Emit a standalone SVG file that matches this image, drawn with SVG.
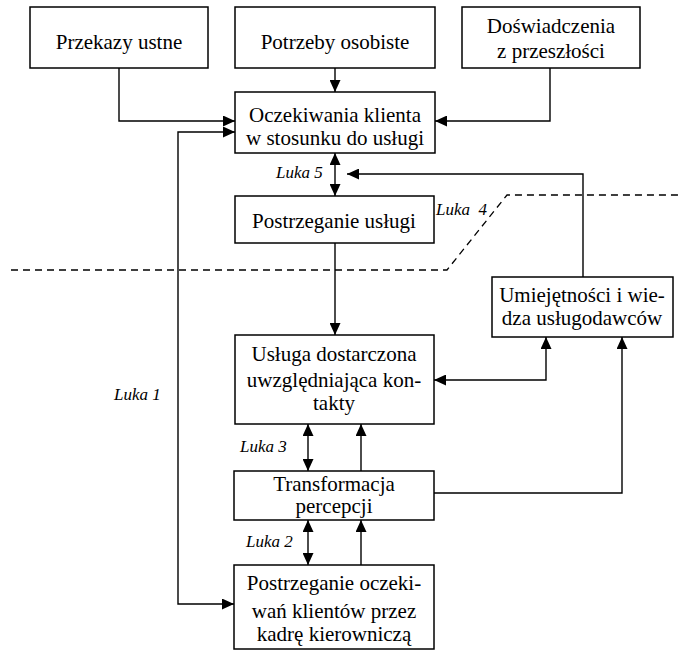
<svg xmlns="http://www.w3.org/2000/svg" width="678" height="651" viewBox="0 0 678 651">
<style>
text{font-family:"Times New Roman",Times,"Liberation Serif","Noto Serif","DejaVu Serif",FreeSerif,Tinos,serif}
.box{fill:#fff;stroke:#000;stroke-width:1.5}
.t{font-size:21px;text-anchor:middle;fill:#000}
.l{font-size:17px;font-style:italic;fill:#000}
.c{fill:none;stroke:#000;stroke-width:1.4}
.d{fill:none;stroke:#000;stroke-width:1.3;stroke-dasharray:7,5}
</style>
<defs>
<marker id="a" markerUnits="userSpaceOnUse" markerWidth="12" markerHeight="11" refX="12" refY="5.5" orient="auto-start-reverse">
<path d="M0,0 L12,5.5 L0,11 z" fill="#000"/>
</marker>
</defs>
<rect width="678" height="651" fill="#fff"/>
<path class="d" d="M11,270 H447 L507,195 H678"/>
<g id="connectors">
<path class="c" d="M119,68 V121 H235" marker-end="url(#a)"/>
<path class="c" d="M335,68 V92" marker-end="url(#a)"/>
<path class="c" d="M550,68 V121 H435" marker-end="url(#a)"/>
<path class="c" d="M235,132 H178 V604 H234" marker-start="url(#a)" marker-end="url(#a)"/>
<path class="c" d="M335,153 V196" marker-start="url(#a)" marker-end="url(#a)"/>
<path class="c" d="M583,277 V174 H347" marker-end="url(#a)"/>
<path class="c" d="M335,243 V335" marker-end="url(#a)"/>
<path class="c" d="M546,337 V380 H434" marker-start="url(#a)" marker-end="url(#a)"/>
<path class="c" d="M308,424 V471" marker-start="url(#a)" marker-end="url(#a)"/>
<path class="c" d="M361,471 V424" marker-end="url(#a)"/>
<path class="c" d="M434,493 H622 V337" marker-end="url(#a)"/>
<path class="c" d="M308,520 V565" marker-start="url(#a)" marker-end="url(#a)"/>
<path class="c" d="M361,565 V520" marker-end="url(#a)"/>
</g>
<g id="labels">
<text class="l" x="276" y="178">Luka 5</text>
<text class="l" x="436" y="215" xml:space="preserve">Luka  4</text>
<text class="l" x="114" y="400">Luka 1</text>
<text class="l" x="240" y="452">Luka 3</text>
<text class="l" x="246" y="547">Luka 2</text>
</g>
<g id="n1"><rect class="box" x="30" y="7" width="178" height="61"/><text class="t" x="119" y="49">Przekazy ustne</text></g>
<g id="n2"><rect class="box" x="235" y="7" width="200" height="61"/><text class="t" x="335" y="49">Potrzeby osobiste</text></g>
<g id="n3"><rect class="box" x="462" y="7" width="178" height="61"/><text class="t" x="551" y="33">Doświadczenia</text><text class="t" x="551" y="58">z przeszłości</text></g>
<g id="n4"><rect class="box" x="235" y="92" width="200" height="61"/><text class="t" x="335" y="122">Oczekiwania klienta</text><text class="t" x="335" y="145">w stosunku do usługi</text></g>
<g id="n5"><rect class="box" x="235" y="196" width="199" height="47"/><text class="t" x="334" y="228">Postrzeganie usługi</text></g>
<g id="n6"><rect class="box" x="492" y="277" width="181" height="60"/><text class="t" x="582" y="302">Umiejętności i wie-</text><text class="t" x="582" y="325">dza usługodawców</text></g>
<g id="n7"><rect class="box" x="235" y="335" width="199" height="89"/><text class="t" x="334" y="361">Usługa dostarczona</text><text class="t" x="334" y="387">uwzględniająca kon-</text><text class="t" x="334" y="410">takty</text></g>
<g id="n8"><rect class="box" x="234" y="471" width="200" height="49"/><text class="t" x="334" y="491">Transformacja</text><text class="t" x="334" y="513">percepcji</text></g>
<g id="n9"><rect class="box" x="234" y="565" width="200" height="84"/><text class="t" x="334" y="590">Postrzeganie oczeki-</text><text class="t" x="334" y="618">wań klientów przez</text><text class="t" x="334" y="641">kadrę kierowniczą</text></g>
</svg>
